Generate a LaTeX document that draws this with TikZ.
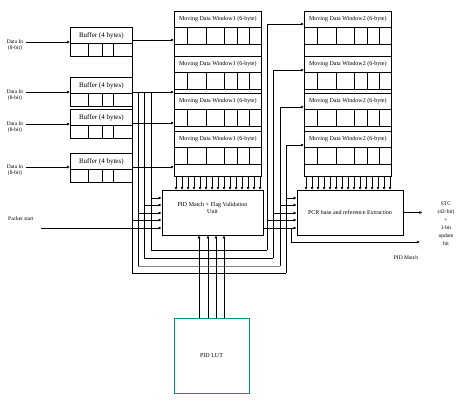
\documentclass[tikz,border=0pt]{standalone}
\usepackage{fontspec}
\setmainfont{Liberation Serif}
\usetikzlibrary{arrows.meta,positioning}
\definecolor{lutteal}{RGB}{0,140,140}
\tikzset{
  wire/.style={line width=0.6pt},
  feed/.style={line width=0.7pt,-{Latex[length=3pt,width=3pt]}},
  blk/.style={draw,line width=0.7pt,inner sep=0pt,font=\fontsize{6}{7.5}\selectfont,align=center},
  lbl/.style={inner sep=0pt,font=\fontsize{5.5}{8}\selectfont,align=center},
}
\begin{document}
\begin{tikzpicture}[x=1pt,y=-1pt,line join=miter]
\useasboundingbox (0,0) rectangle (458,413);
% buffers and their inputs
\foreach \i/\t/\y in {1/27/42,2/77/92,3/109/124,4/153/167}{
  \node[blk,font=\fontsize{7}{8}\selectfont,minimum width=62pt,minimum height=16pt,anchor=north west] (buf\i) at (70,\t) {Buffer (4 bytes)};
  \draw[line width=0.7pt] (buf\i.south west) rectangle ++(62,13);
  \foreach \c in {18,32,43} \draw[wire] (70+\c,\t+16) -- (70+\c,\t+29);
  \node[lbl] (din\i) at (15,\y) {Data In};
  \node[lbl,below=1.5pt of din\i] {(8-bit)};
  \draw[feed] ([xshift=3pt]din\i.east) -- (din\i.east -| buf\i.west);
}
% moving data windows
\foreach \c/\x/\n in {a/174/1,b/304/2}{
  \node[draw,line width=0.7pt,minimum width=87pt,minimum height=165pt,anchor=north west] (win\c) at (\x,11) {};
  \foreach \j/\t in {1/11,2/56,3/93,4/131}{
    \node[blk,minimum width=87pt,minimum height=16pt,anchor=north west] (mw\c\j) at (\x,\t) {Moving Data Window\n\ (6-byte)};
    \draw[line width=1.2pt] (mw\c\j.south west) -- (mw\c\j.south east);
    \draw[wire] (mw\c\j.south west) rectangle ++(87,17);
    \foreach \d in {13,32,50,63,75} \draw[wire] (\x+\d,\t+16) -- (\x+\d,\t+33);
  }
  \foreach \k in {0,...,14}
    \draw[feed] ([xshift=\k*6pt+2pt]win\c.south west) -- ([xshift=\k*6pt+2pt]win\c.south west |- 0,190);
}
% processing blocks
\node[blk,minimum width=101pt,minimum height=45pt] (pidm) at (212.5,212.5) {PID Match + Flag Validation\\Unit\\[2pt]};
\node[blk,minimum width=106pt,minimum height=45pt] (pcr) at (350,212.5) {PCR base and reference Extraction};
\node[blk,draw=lutteal,line width=1pt,minimum width=75pt,minimum height=75pt] (lut) at (211.5,355.5) {PID LUT};
% buffer outputs into window 1
\foreach \i/\y in {1/40,2/92,3/123,4/167}
  \draw[feed] (buf\i.east |- 0,\y) -- (mwa1.west |- 0,\y);
% tapped lines round the match unit
\foreach \xl/\yt/\yb/\xr/\yr/\yp/\yq/\col in {151/92/250/267/24/198/220/black,144/92/258/273/70/205/213/black,138/92/266/280/107/213/205/gray,132/40/273/286/145/220/198/black}{
  \draw[wire] (\xl,\yt) -- (\xl,\yb) (\xr,\yb) -- (\xr,\yr);
  \draw[wire,draw=\col] (\xl,\yb) -- (\xr,\yb);
  \draw[feed] (\xr,\yr) -- (mwb1.west |- 0,\yr);
  \draw[feed] (\xl,\yp) -- (pidm.west |- 0,\yp);
  \draw[feed] (\xr,\yq) -- (pcr.west |- 0,\yq);
}
\node[lbl] (pkt) at (21,219) {Packet start};
\draw[feed] (41,228) -- (pidm.west |- 0,228);
\draw[feed] (pidm.east |- 0,228) -- (pcr.west |- 0,228);
\draw[feed] (291,228) -- (291,242) -- (420,242);
\node[lbl] (pmatch) at (406,258) {PID Match};
\draw[feed,line width=1pt] (pcr.east) -- ++(19,0);
\node[lbl] (stc) at (446,224) {STC\\(42-bit)\\+\\1-bit\\update\\bit};
\foreach \x in {199,208,216,224}
  \draw[feed] (lut.north -| \x,0) -- (pidm.south -| \x,0);
\end{tikzpicture}
\end{document}
